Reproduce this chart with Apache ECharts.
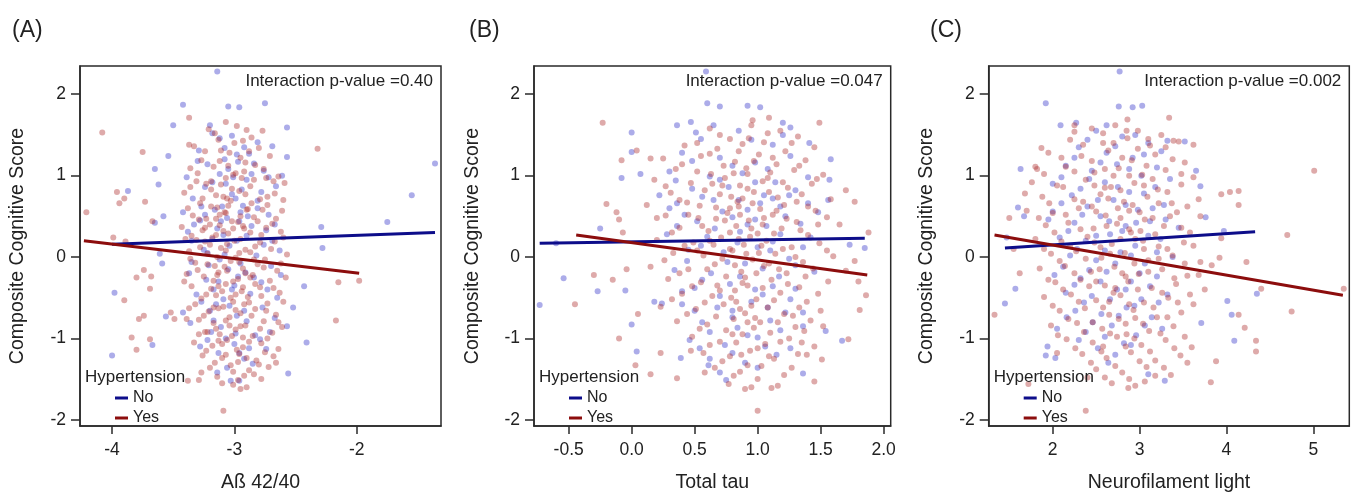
<!DOCTYPE html>
<html><head><meta charset="utf-8">
<script src="https://cdn.jsdelivr.net/npm/echarts@6/dist/echarts.min.js"></script>
<style>html,body{margin:0;padding:0;background:#fff}#c{width:1354px;height:498px}</style>
</head><body><div id="c"></div>
<script>
// ---------- tick labels ----------
const ticksY = [-2, -1, 0, 1, 2];
const ticksA = [-4, -3, -2];
const ticksB = [-0.5, 0, 0.5, 1, 1.5, 2];
const ticksC = [2, 3, 4, 5];

// ---------- texts ----------
const panelLabels = ['(A)', '(B)', '(C)'];
const xNames = ['Aß 42/40', 'Total tau', 'Neurofilament light'];
const yName = 'Composite Cognitive Score';
const pTexts = ['Interaction p-value =0.40', 'Interaction p-value =0.047', 'Interaction p-value =0.002'];
const legendTitle = 'Hypertension';
const groups = ['No', 'Yes'];

// ---------- regression lines ----------
const aLineNo = [[-4.00, 0.157], [-1.36, 0.30]];
const aLineYes = [[-4.23, 0.20], [-1.98, -0.20]];
const bLineNo = [[-0.73, 0.17], [1.85, 0.23]];
const bLineYes = [[-0.44, 0.27], [1.87, -0.22]];
const cLineNo = [[1.45, 0.11], [4.33, 0.31]];
const cLineYes = [[1.33, 0.27], [5.34, -0.47]];

// ---------- Panel A points ----------
const aNo = [
[-3.18,1.52],[-3.02,1.49],[-2.81,1.41],[-3.29,1.31],[-3.08,1.34],[-2.88,1.27],[-2.69,1.36],[-3.22,1.14],[-2.97,1.17],[-2.76,1.06],
[-3.39,0.98],[-3.12,1.02],[-2.90,0.95],[-2.66,0.87],[-3.24,0.86],[-3.02,0.77],[-2.81,0.69],[-3.34,0.72],[-3.16,0.58],[-2.93,0.63],
[-2.72,0.52],[-3.28,0.45],[-3.06,0.48],[-2.86,0.38],[-3.38,0.31],[-3.14,0.35],[-2.98,0.20],[-2.74,0.33],[-3.25,0.09],[-3.04,0.14],
[-2.82,0.02],[-2.63,0.08],[-3.35,-0.06],[-3.12,-0.03],[-2.91,-0.19],[-2.70,-0.11],[-3.23,-0.28],[-3.00,-0.35],[-2.78,-0.31],[-3.31,-0.46],
[-3.09,-0.52],[-2.87,-0.45],[-2.65,-0.50],[-3.20,-0.66],[-2.98,-0.72],[-2.77,-0.62],[-3.36,-0.81],[-3.11,-0.86],[-2.90,-0.79],[-2.71,-0.92],
[-3.22,-1.02],[-3.00,-1.07],[-2.79,-1.01],[-3.13,-1.18],[-2.92,-1.25],[-3.06,-1.36],[-2.85,-1.31],[-3.17,-0.40],[-2.95,0.55],[-3.07,0.90],
[-3.10,0.62],[-2.96,0.44],[-3.05,-0.15],[-3.15,-0.58],[-2.99,-0.94],[-3.08,1.20],[-2.94,0.83],[-3.18,0.22],
[-3.20,1.62],[-2.92,1.35],[-3.05,1.08],[-3.30,1.18],[-2.84,1.15],[-2.72,0.98],[-3.18,0.92],[-2.99,0.72],[-3.42,0.55],[-2.78,0.80],
[-3.27,0.62],[-2.89,0.50],[-3.11,0.44],[-2.67,0.40],[-3.33,0.40],[-2.90,0.26],[-3.08,0.03],[-2.76,0.15],[-3.21,-0.10],[-2.95,-0.08],
[-2.62,-0.22],[-3.37,-0.20],[-3.13,-0.30],[-2.84,-0.25],[-3.04,-0.60],[-2.73,-0.40],[-3.27,-0.55],[-2.92,-0.66],[-3.17,-0.78],[-2.83,-0.96],
[-3.07,-1.00],[-2.67,-0.75],[-3.28,-1.10],[-2.96,-1.18],[-3.14,-1.42],[-2.88,-1.12],[-3.01,0.98],[-3.24,0.52],[-2.81,0.60],[-3.09,0.27],
[-2.97,-0.24],[-3.19,-0.92],[-2.74,-1.13],[-3.35,0.20],[-2.86,1.02],[-3.12,1.46],[-2.98,1.26],[-3.02,-0.40],[-3.22,0.05],[-2.69,0.20],
[-3.14,2.28],[-3.42,1.87],[-3.05,1.85],[-2.96,1.84],[-2.75,1.89],[-3.50,1.62],[-2.57,1.59],[-3.54,1.24],[-3.65,1.08],[-3.62,0.89],
[-3.87,0.81],[-3.58,0.50],[-3.65,0.42],[-1.36,1.15],[-1.55,0.76],[-1.75,0.43],[-2.29,0.37],[-2.28,0.11],[-2.43,-0.36],[-2.41,-1.05],
[-2.52,-0.62],[-2.57,-0.85],[-3.98,-0.44],[-4.00,-1.21],[-3.67,-1.08],[-3.56,-0.73],[-3.42,-0.68],[-3.61,0.04],[-3.59,-0.08],[-2.96,-1.52],
[-3.03,-1.52],[-2.56,-1.43],[-2.57,1.23],[-2.61,1.00]
];
const aYes = [
[-3.21,1.57],[-3.07,1.66],[-2.98,1.61],[-2.93,1.43],[-3.33,1.36],[-3.13,1.44],[-2.86,1.47],[-2.77,1.55],[-3.27,1.19],[-3.04,1.28],
[-2.91,1.16],[-2.71,1.24],[-3.36,1.09],[-3.17,1.11],[-2.99,1.03],[-2.83,1.13],[-2.64,0.99],[-3.31,0.93],[-3.11,0.89],[-3.01,1.01],
[-2.87,0.87],[-2.74,0.97],[-2.59,0.91],[-3.41,0.79],[-3.19,0.83],[-3.09,0.74],[-2.96,0.81],[-2.79,0.71],[-2.67,0.78],[-3.28,0.66],
[-3.14,0.61],[-3.03,0.69],[-2.89,0.59],[-2.73,0.64],[-2.61,0.57],[-3.34,0.51],[-3.23,0.47],[-3.08,0.55],[-2.97,0.43],[-2.84,0.49],
[-2.69,0.41],[-3.43,0.37],[-3.26,0.33],[-3.12,0.39],[-3.05,0.29],[-2.92,0.35],[-2.78,0.27],[-2.62,0.31],[-3.31,0.21],[-3.18,0.24],
[-3.06,0.16],[-2.95,0.22],[-2.83,0.13],[-2.67,0.19],[-3.37,0.07],[-3.22,0.04],[-3.11,0.11],[-2.99,-0.01],[-2.87,0.06],[-2.75,-0.03],
[-2.57,0.03],[-3.32,-0.07],[-3.16,-0.11],[-3.03,-0.05],[-2.93,-0.14],[-2.81,-0.09],[-2.65,-0.17],[-3.39,-0.21],[-3.25,-0.24],[-3.13,-0.19],
[-2.97,-0.27],[-2.85,-0.22],[-2.71,-0.29],[-2.58,-0.25],[-3.35,-0.36],[-3.19,-0.39],[-3.07,-0.33],[-2.94,-0.42],[-2.79,-0.37],[-2.63,-0.44],
[-3.27,-0.51],[-3.15,-0.47],[-3.01,-0.55],[-2.89,-0.49],[-2.73,-0.57],[-3.37,-0.63],[-3.21,-0.67],[-3.09,-0.61],[-2.95,-0.69],[-2.83,-0.64],
[-2.66,-0.71],[-3.29,-0.77],[-3.17,-0.81],[-3.04,-0.74],[-2.91,-0.84],[-2.76,-0.79],[-2.61,-0.86],[-3.24,-0.92],[-3.12,-0.95],[-2.99,-0.89],
[-2.85,-0.97],[-2.69,-0.93],[-3.33,-1.05],[-3.18,-1.09],[-3.06,-1.02],[-2.93,-1.11],[-2.78,-1.06],[-2.64,-1.13],[-3.26,-1.21],[-3.10,-1.24],
[-2.96,-1.19],[-2.82,-1.27],[-2.68,-1.22],[-3.20,-1.36],[-3.03,-1.33],[-2.88,-1.39],[-2.72,-1.35],[-3.14,-1.47],[-2.97,-1.51],[-2.84,-1.44],
[-3.01,-1.57],
[-3.19,0.93],[-3.06,0.72],[-2.94,0.97],[-3.15,0.47],[-3.01,0.35],[-2.90,0.58],[-3.20,0.15],[-3.08,-0.12],[-2.96,0.05],[-3.13,-0.36],
[-2.99,-0.46],[-3.17,-0.62],[-3.04,-0.84],[-2.92,-0.58],[-3.10,-1.07],[-2.97,-1.29],[-3.22,-0.92],[-3.05,1.12],[-3.11,1.31],[-2.88,1.30],
[-3.24,0.36],[-2.87,-0.25],[-3.07,0.54],[-2.93,-0.99],[-3.14,-0.22],
[-3.16,1.52],[-2.90,1.56],[-3.00,1.40],[-3.24,1.30],[-2.80,1.34],[-2.95,1.22],[-3.12,1.18],[-3.30,1.03],[-2.76,1.08],[-2.92,1.05],
[-3.07,0.97],[-3.23,0.90],[-2.68,0.93],[-2.84,0.95],[-3.36,0.86],[-3.02,0.84],[-2.91,0.77],[-3.15,0.76],[-2.73,0.74],[-3.26,0.72],
[-2.60,0.70],[-3.05,0.63],[-2.86,0.66],[-3.19,0.62],[-3.38,0.60],[-2.77,0.58],[-2.95,0.50],[-3.12,0.52],[-3.29,0.46],[-2.66,0.47],
[-3.02,0.44],[-2.81,0.44],[-3.20,0.40],[-2.93,0.38],[-3.09,0.32],[-3.35,0.26],[-2.74,0.36],[-2.87,0.30],[-3.15,0.27],[-2.60,0.24],
[-3.00,0.20],[-3.24,0.19],[-2.79,0.18],[-3.40,0.22],[-2.91,0.09],[-3.07,0.08],[-3.28,0.12],[-2.70,0.10],[-3.14,0.00],[-2.96,-0.06],
[-2.84,-0.03],[-3.22,-0.09],[-3.36,-0.02],[-2.62,-0.08],[-3.06,-0.17],[-2.91,-0.20],[-2.76,-0.13],[-3.30,-0.16],[-3.17,-0.29],[-3.01,-0.30],
[-2.83,-0.33],[-2.68,-0.38],[-3.41,-0.30],[-3.10,-0.42],[-2.93,-0.37],[-3.23,-0.46],[-2.78,-0.48],[-3.03,-0.50],[-2.60,-0.55],[-3.32,-0.58],
[-2.88,-0.56],[-3.13,-0.63],[-2.99,-0.65],[-2.74,-0.66],[-3.25,-0.72],[-3.07,-0.78],[-2.86,-0.72],[-2.64,-0.80],[-3.39,-0.76],[-2.95,-0.85],
[-3.15,-0.88],[-2.79,-0.88],[-3.29,-0.95],[-3.02,-0.97],[-2.73,-1.00],[-2.88,-1.04],[-3.13,-1.03],[-3.23,-1.15],[-2.98,-1.14],[-2.75,-1.17],
[-3.07,-1.20],[-2.90,-1.24],[-3.16,-1.30],[-2.80,-1.32],[-3.01,-1.41],[-2.92,-1.46],[-3.10,-1.55],[-2.78,-1.50],[-3.27,-1.42],[-2.66,-1.30],
[-4.21,0.55],[-4.08,1.53],[-3.96,0.80],[-3.90,0.72],[-3.94,0.66],[-3.75,1.29],[-3.73,0.68],[-3.67,0.44],[-3.99,0.24],[-3.89,0.19],
[-3.74,-0.16],[-3.80,-0.25],[-3.90,-0.53],[-3.78,-0.76],[-3.74,-0.72],[-3.84,-0.99],[-3.80,-1.14],[-3.69,-1.01],[-3.69,-0.39],[-3.68,-0.24],
[-2.32,1.33],[-2.15,-0.31],[-1.98,-0.29],[-2.17,-0.78],[-3.37,1.71],[-3.09,-1.89],[-2.95,-1.62],[-2.90,-1.60],[-3.37,1.38],[-3.38,-1.52],
[-3.29,-1.51],[-3.49,-0.76],[-3.52,-0.68]
];

// ---------- Panel B points ----------
const bNo = [
[0.55,1.45],[0.85,1.55],[1.12,1.38],[0.40,1.28],[0.70,1.22],[0.98,1.16],[1.26,1.24],[0.30,1.05],[0.62,0.99],[0.88,1.03],
[1.14,0.92],[1.40,0.98],[0.48,0.84],[0.77,0.86],[1.05,0.76],[1.30,0.82],[0.36,0.66],[0.65,0.70],[0.92,0.58],[1.18,0.62],
[1.48,0.55],[0.52,0.44],[0.80,0.49],[1.07,0.38],[1.34,0.41],[0.28,0.28],[0.60,0.25],[0.86,0.31],[1.12,0.19],[1.42,0.24],
[0.45,0.09],[0.73,0.06],[1.00,0.12],[1.25,-0.02],[0.34,-0.16],[0.63,-0.20],[0.90,-0.08],[1.17,-0.24],[1.45,-0.18],[0.50,-0.38],
[0.78,-0.33],[1.04,-0.46],[1.30,-0.39],[0.40,-0.58],[0.68,-0.62],[0.95,-0.55],[1.22,-0.68],[0.56,-0.80],[0.84,-0.87],[1.10,-0.78],
[1.36,-0.85],[0.46,-1.02],[0.74,-1.08],[1.00,-0.99],[1.26,-1.12],[0.62,-1.25],[0.90,-1.30],[1.15,-1.20],[0.80,-0.66],[1.02,0.66],
[0.65,1.62],[0.95,1.44],[1.20,1.50],[0.48,1.18],[0.80,1.12],[1.08,1.08],[0.35,0.94],[0.70,0.95],[0.98,0.92],[1.25,0.76],
[0.56,0.74],[0.85,0.70],[1.12,0.72],[1.40,0.66],[0.42,0.52],[0.72,0.56],[0.98,0.46],[1.22,0.50],[0.36,0.38],[0.66,0.35],
[0.92,0.40],[1.18,0.28],[0.55,0.14],[0.84,0.18],[1.10,0.08],[1.36,0.12],[0.44,-0.05],[0.76,-0.06],[1.04,-0.14],[1.30,-0.10],
[0.56,-0.28],[0.86,-0.24],[1.12,-0.36],[0.40,-0.42],[0.70,-0.48],[0.98,-0.40],[1.26,-0.52],[0.50,-0.66],[0.80,-0.74],[1.08,-0.62],
[1.36,-0.68],[0.62,-0.92],[0.92,-0.96],[1.18,-0.90],[0.54,-1.12],[0.80,-1.18],[1.06,-1.10],[0.70,-1.42],[1.00,-1.36],[0.30,0.60],
[0.59,2.28],[0.60,1.89],[0.70,1.85],[0.92,1.86],[1.02,1.84],[0.47,1.66],[0.36,1.62],[0.51,1.53],[0.00,1.53],[1.20,1.65],
[1.26,1.59],[1.41,1.40],[1.58,1.20],[1.57,0.95],[1.56,0.70],[1.85,0.11],[1.73,0.15],[-0.08,0.97],[0.00,1.29],[0.07,1.02],
[-0.25,0.35],[-0.60,0.17],[-0.54,-0.26],[-0.27,-0.42],[-0.73,-0.59],[-0.05,-0.41],[0.00,-0.83],[0.04,-1.16],[0.39,-1.24],[0.61,-1.33],
[0.75,-1.51],[1.36,-1.43],[1.54,-0.91],[1.67,-1.03],[0.22,0.76],[0.18,-0.55],[0.24,-0.57]
];
const bYes = [
[0.62,1.58],[0.95,1.62],[1.18,1.55],[0.78,1.45],[1.05,1.41],[1.32,1.48],[0.42,1.37],[0.68,1.33],[0.88,1.39],[1.22,1.30],
[1.45,1.35],[0.25,1.21],[0.55,1.24],[0.82,1.17],[1.01,1.26],[1.15,1.14],[1.38,1.19],[0.35,1.08],[0.63,1.02],[0.91,1.09],
[1.10,1.04],[1.29,1.07],[1.52,1.01],[0.18,0.95],[0.47,0.91],[0.74,0.97],[0.86,0.88],[1.04,0.93],[1.24,0.85],[1.43,0.90],
[0.31,0.79],[0.58,0.82],[0.79,0.74],[0.97,0.80],[1.16,0.73],[1.35,0.77],[1.58,0.71],[0.12,0.64],[0.44,0.67],[0.67,0.61],
[0.84,0.68],[1.02,0.59],[1.21,0.64],[1.46,0.57],[0.27,0.51],[0.53,0.48],[0.76,0.54],[0.93,0.45],[1.12,0.52],[1.31,0.43],
[1.55,0.49],[0.38,0.36],[0.61,0.32],[0.83,0.38],[1.00,0.29],[1.19,0.35],[1.40,0.27],[0.20,0.21],[0.49,0.18],[0.71,0.24],
[0.89,0.15],[1.07,0.20],[1.27,0.12],[1.49,0.17],[0.33,0.05],[0.57,0.02],[0.80,0.08],[0.96,-0.03],[1.14,0.04],[1.36,-0.06],
[1.60,0.01],[0.15,-0.12],[0.45,-0.15],[0.66,-0.09],[0.87,-0.18],[1.05,-0.11],[1.23,-0.20],[1.44,-0.14],[0.29,-0.27],[0.55,-0.31],
[0.75,-0.24],[0.92,-0.35],[1.11,-0.28],[1.33,-0.37],[1.56,-0.30],[0.40,-0.45],[0.64,-0.48],[0.82,-0.41],[0.99,-0.52],[1.18,-0.44],
[1.39,-0.55],[0.23,-0.61],[0.51,-0.64],[0.73,-0.58],[0.90,-0.69],[1.08,-0.62],[1.28,-0.72],[1.50,-0.66],[0.36,-0.79],[0.60,-0.83],
[0.81,-0.76],[0.97,-0.87],[1.16,-0.80],[1.37,-0.91],[0.48,-0.98],[0.70,-1.04],[0.88,-0.95],[1.06,-1.07],[1.25,-1.00],[1.45,-1.10],
[0.57,-1.18],[0.78,-1.22],[0.94,-1.15],[1.13,-1.25],[1.32,-1.19],[0.66,-1.36],[0.86,-1.41],[1.03,-1.34],[1.21,-1.45],[0.77,-1.56],
[0.95,-1.60],
[0.72,0.88],[0.85,0.62],[0.95,0.35],[0.78,0.10],[0.90,-0.25],[0.83,-0.55],[0.98,-0.75],[0.68,-0.35],[1.05,0.48],[0.74,0.45],
[0.92,1.02],[0.80,-0.95],[0.87,-1.20],[1.01,0.05],[0.65,0.15],
[0.70,1.50],[1.08,1.52],[0.52,1.40],[0.93,1.46],[1.27,1.40],[0.62,1.27],[0.85,1.30],[1.12,1.22],[0.40,1.14],[0.73,1.12],
[0.97,1.18],[1.33,1.12],[0.52,1.05],[0.81,1.03],[1.08,0.97],[1.47,0.96],[0.27,0.87],[0.64,0.90],[0.92,0.84],[1.20,0.92],
[0.38,0.70],[0.70,0.77],[0.88,0.72],[1.09,0.80],[1.31,0.68],[0.54,0.63],[0.78,0.60],[0.96,0.66],[1.15,0.57],[1.40,0.62],
[0.20,0.48],[0.45,0.52],[0.67,0.47],[0.86,0.52],[1.04,0.40],[1.23,0.47],[1.48,0.40],[0.32,0.30],[0.56,0.38],[0.78,0.30],
[0.94,0.25],[1.13,0.29],[1.34,0.33],[0.42,0.14],[0.62,0.20],[0.85,0.22],[1.03,0.14],[1.20,0.10],[1.55,0.08],[0.26,-0.04],
[0.52,0.08],[0.72,-0.02],[0.91,0.04],[1.09,-0.08],[1.30,0.00],[0.38,-0.20],[0.60,-0.15],[0.82,-0.10],[0.99,-0.20],[1.17,-0.15],
[1.38,-0.24],[0.48,-0.36],[0.70,-0.41],[0.88,-0.32],[1.04,-0.38],[1.24,-0.33],[1.48,-0.45],[0.32,-0.52],[0.58,-0.56],[0.79,-0.50],
[0.95,-0.60],[1.13,-0.53],[1.33,-0.62],[0.44,-0.70],[0.67,-0.73],[0.86,-0.64],[1.02,-0.80],[1.21,-0.70],[1.42,-0.78],[0.54,-0.88],
[0.75,-0.90],[0.92,-0.80],[1.10,-0.93],[1.30,-0.86],[0.62,-1.08],[0.83,-1.05],[1.00,-1.12],[1.18,-1.04],[1.39,-1.20],[0.72,-1.28],
[0.92,-1.33],[1.09,-1.22],[1.27,-1.36],[0.81,-1.46],[1.00,-1.50],[1.16,-1.58],[0.58,-1.42],[1.35,-1.05],[0.47,-1.15],[1.52,-0.85],
[-0.23,1.65],[-0.20,0.65],[-0.45,-0.58],[-0.30,-0.22],[-0.08,1.19],[-0.10,0.46],[-0.12,0.55],[-0.04,-0.15],[-0.10,-1.00],[0.03,-1.33],
[0.15,-1.44],[0.23,-1.18],[0.36,-1.49],[1.00,-1.89],[0.90,-1.62],[1.49,1.65],[1.09,1.71],[0.96,1.68],[1.77,0.68],[1.88,0.30],
[1.86,-0.47],[1.81,-0.65],[1.72,-1.01],[1.45,-1.53],[1.51,-1.26],[1.11,-1.61],[0.04,1.31],[0.15,1.21],[1.70,-0.17],[1.77,-0.05],
[1.80,-0.30],[-0.07,0.30],[0.05,-0.70],[-0.15,-0.28],[1.65,0.40],[1.70,0.82]
];

// ---------- Panel C points ----------
const cNo = [
[2.50,1.55],[2.80,1.48],[3.10,1.40],[2.30,1.35],[2.62,1.28],[2.92,1.22],[3.25,1.30],[2.15,1.12],[2.45,1.06],[2.74,1.14],
[3.02,1.00],[3.35,0.96],[2.00,0.90],[2.32,0.84],[2.60,0.92],[2.88,0.80],[3.18,0.86],[2.10,0.66],[2.40,0.62],[2.70,0.70],
[2.98,0.58],[3.28,0.64],[1.95,0.46],[2.25,0.42],[2.55,0.50],[2.84,0.38],[3.12,0.44],[3.45,0.36],[2.08,0.24],[2.38,0.20],
[2.66,0.28],[2.95,0.14],[3.24,0.22],[2.20,0.02],[2.50,-0.04],[2.78,0.06],[3.06,-0.08],[3.38,0.00],[2.02,-0.22],[2.32,-0.26],
[2.62,-0.18],[2.90,-0.30],[3.20,-0.24],[2.15,-0.44],[2.45,-0.48],[2.74,-0.40],[3.02,-0.52],[3.32,-0.46],[2.26,-0.66],[2.56,-0.70],
[2.85,-0.62],[3.14,-0.74],[2.05,-0.88],[2.38,-0.92],[2.68,-0.84],[2.96,-0.96],[3.26,-0.88],[2.52,-1.12],[2.82,-1.06],[2.64,-1.30],
[2.62,1.62],[2.95,1.50],[2.40,1.44],[2.72,1.36],[3.05,1.26],[2.25,1.22],[2.55,1.16],[2.88,1.08],[3.20,1.10],[2.10,0.98],
[2.42,0.96],[2.75,0.86],[3.05,0.78],[2.22,0.76],[2.52,0.70],[2.84,0.64],[3.15,0.60],[2.00,0.56],[2.34,0.52],[2.65,0.44],
[2.96,0.42],[3.30,0.46],[2.18,0.32],[2.50,0.26],[2.80,0.32],[3.10,0.26],[2.28,0.10],[2.60,0.08],[2.90,0.02],[3.20,0.06],
[2.12,-0.12],[2.42,-0.16],[2.72,-0.08],[3.00,-0.20],[2.25,-0.34],[2.55,-0.30],[2.84,-0.40],[3.12,-0.36],[2.36,-0.56],[2.66,-0.52],
[2.94,-0.60],[3.22,-0.56],[2.16,-0.74],[2.46,-0.80],[2.76,-0.72],[3.06,-0.84],[2.30,-1.02],[2.60,-0.98],[2.90,-1.08],[2.72,-1.20],
[2.77,2.28],[1.92,1.89],[2.76,1.85],[2.92,1.84],[3.03,1.86],[2.09,1.62],[2.27,1.65],[1.63,1.08],[1.60,0.61],[1.67,0.50],
[1.47,0.24],[1.45,-0.57],[1.57,-0.39],[1.92,-1.21],[1.94,-1.10],[2.03,-1.24],[3.65,1.06],[3.70,0.87],[3.52,1.42],[3.32,1.43],
[3.97,0.32],[4.01,-0.54],[4.09,-1.03],[4.06,-0.71],[4.35,-0.45],[3.29,-1.52],[3.10,-1.44],[3.76,0.49],[3.71,-0.81]
];
const cYes = [
[2.45,1.58],[2.72,1.62],[2.98,1.55],[3.25,1.50],[2.20,1.44],[2.58,1.40],[2.86,1.46],[3.12,1.37],[3.45,1.42],[1.95,1.28],
[2.33,1.24],[2.64,1.31],[2.91,1.19],[3.18,1.26],[3.52,1.16],[1.82,1.08],[2.15,1.11],[2.48,1.04],[2.76,1.09],[3.03,1.01],
[3.30,1.07],[3.62,0.98],[1.76,0.92],[2.05,0.88],[2.38,0.95],[2.67,0.86],[2.94,0.91],[3.21,0.83],[3.48,0.89],[1.88,0.74],
[2.25,0.71],[2.55,0.77],[2.82,0.68],[3.09,0.74],[3.37,0.66],[3.68,0.71],[1.70,0.57],[2.00,0.54],[2.30,0.60],[2.61,0.51],
[2.88,0.57],[3.15,0.48],[3.43,0.55],[1.92,0.39],[2.18,0.42],[2.47,0.35],[2.74,0.41],[3.01,0.32],[3.28,0.38],[3.58,0.30],
[1.80,0.22],[2.10,0.19],[2.40,0.25],[2.68,0.16],[2.95,0.22],[3.22,0.13],[3.51,0.18],[1.98,0.04],[2.27,0.07],[2.56,-0.01],
[2.83,0.05],[3.10,-0.04],[3.38,0.02],[3.70,-0.06],[1.85,-0.14],[2.14,-0.11],[2.44,-0.18],[2.71,-0.12],[2.99,-0.21],[3.26,-0.15],
[3.55,-0.23],[2.03,-0.31],[2.32,-0.28],[2.60,-0.35],[2.87,-0.30],[3.14,-0.38],[3.42,-0.33],[3.75,-0.40],[1.90,-0.49],[2.21,-0.46],
[2.50,-0.53],[2.78,-0.47],[3.05,-0.56],[3.33,-0.50],[3.62,-0.58],[2.08,-0.66],[2.37,-0.63],[2.65,-0.71],[2.93,-0.65],[3.20,-0.74],
[3.48,-0.68],[1.98,-0.84],[2.28,-0.81],[2.57,-0.88],[2.84,-0.82],[3.11,-0.91],[3.39,-0.85],[2.16,-1.01],[2.46,-1.05],[2.74,-0.98],
[3.02,-1.08],[3.30,-1.02],[3.60,-1.11],[2.34,-1.19],[2.62,-1.24],[2.90,-1.17],[3.18,-1.27],[3.47,-1.21],[2.50,-1.38],[2.80,-1.42],
[3.08,-1.35],[3.36,-1.45],[2.68,-1.55],[2.95,-1.58],
[2.60,0.85],[2.75,0.60],[2.90,0.30],[2.55,0.12],[2.80,-0.20],[2.65,-0.55],[2.95,-0.75],[2.50,-0.30],[3.00,0.55],[2.70,1.00],
[2.85,-0.95],[2.58,-1.10],[3.05,0.10],[2.45,0.62],[2.72,-0.38],
[2.58,1.52],[2.85,1.55],[3.10,1.45],[2.35,1.38],[2.70,1.40],[2.98,1.33],[3.30,1.35],[2.10,1.22],[2.45,1.18],[2.80,1.22],
[3.08,1.12],[3.38,1.20],[1.90,1.02],[2.25,1.05],[2.60,1.08],[2.88,1.00],[3.15,0.96],[3.48,1.02],[2.12,0.86],[2.48,0.88],
[2.78,0.82],[3.05,0.88],[3.32,0.80],[1.96,0.66],[2.35,0.68],[2.64,0.72],[2.92,0.64],[3.22,0.66],[3.55,0.62],[1.84,0.48],
[2.15,0.52],[2.50,0.56],[2.78,0.48],[3.06,0.46],[3.35,0.50],[2.02,0.30],[2.32,0.34],[2.62,0.38],[2.88,0.34],[3.18,0.28],
[3.48,0.36],[1.90,0.10],[2.20,0.14],[2.48,0.18],[2.78,0.22],[3.04,0.20],[3.32,0.10],[3.62,0.14],[2.08,-0.05],[2.38,-0.02],
[2.66,0.04],[2.94,-0.08],[3.22,-0.02],[3.52,-0.08],[1.95,-0.28],[2.25,-0.20],[2.54,-0.15],[2.84,-0.24],[3.10,-0.18],[3.40,-0.26],
[3.68,-0.22],[2.12,-0.40],[2.42,-0.36],[2.70,-0.44],[2.98,-0.40],[3.26,-0.44],[3.58,-0.46],[2.00,-0.60],[2.30,-0.55],[2.58,-0.62],
[2.88,-0.58],[3.16,-0.62],[3.44,-0.56],[2.18,-0.76],[2.46,-0.80],[2.76,-0.76],[3.04,-0.82],[3.32,-0.74],[2.06,-0.96],[2.36,-0.92],
[2.66,-0.94],[2.94,-1.00],[3.24,-0.94],[3.52,-0.98],[2.26,-1.12],[2.56,-1.16],[2.84,-1.10],[3.12,-1.16],[3.40,-1.12],[2.44,-1.30],
[2.72,-1.34],[3.00,-1.28],[3.28,-1.36],[2.60,-1.48],[2.88,-1.50],[3.18,-1.46],[2.40,-1.48],[3.55,-1.30],[2.05,-1.18],[3.70,0.50],
[1.33,-0.71],[1.50,0.48],[1.87,1.34],[1.80,1.11],[1.72,-1.56],[2.38,-1.89],[2.87,-1.61],[3.06,-1.53],[3.82,-1.54],[5.01,1.06],
[4.70,0.27],[4.75,-0.67],[5.35,-0.39],[4.40,-0.39],[4.23,-0.06],[3.94,0.77],[4.04,0.80],[4.14,0.81],[4.14,0.64],[4.34,-1.03],
[4.34,-1.16],[4.21,-0.87],[4.14,-0.71],[3.88,-1.28],[3.34,1.71],[3.39,1.43],[2.86,1.69],[2.25,1.62],[2.25,1.54],[3.62,1.38],
[3.94,0.23],[3.92,-0.01],[3.83,-0.10],[1.55,0.10],[1.62,-0.20],[1.68,0.78]
];

// ---------- layout / style (not data) ----------
const FONT = "'Liberation Sans', Arial, Helvetica, sans-serif";
const INK = '#222';
const COL_NO_LINE = '#0d0d8a', COL_YES_LINE = '#8c0d0d';
const COL_NO_PT = 'rgba(65,65,205,0.55)', COL_YES_PT = 'rgba(172,42,42,0.5)';
const boxTop = 66, boxH = 366.3;
const yMin = -2.076, yMax = 2.347;
const layout = [
  {left: 80, width: 361, xmin: -4.262, xmax: -1.311, ticks: ticksA, fmt: v => String(v), labX: 12, yTitleGap: 52},
  {left: 534, width: 356.7, xmin: -0.775, xmax: 2.056, ticks: ticksB, fmt: v => v.toFixed(1), labX: 469, yTitleGap: 51},
  {left: 988.7, width: 360.6, xmin: 1.263, xmax: 5.414, ticks: ticksC, fmt: v => String(v), labX: 930, yTitleGap: 52}
];
const pts = [[aNo, aYes], [bNo, bYes], [cNo, cYes]];
const lines = [[aLineNo, aLineYes], [bLineNo, bLineYes], [cLineNo, cLineYes]];

const chart = echarts.init(document.getElementById('c'), null, {renderer: 'canvas'});
const grid = [], xAxis = [], yAxis = [], series = [], title = [], legend = [];
layout.forEach((L, i) => {
  grid.push({left: L.left, top: boxTop, width: L.width, height: boxH, show: true,
    borderColor: '#2a2a2a', borderWidth: 1.5, backgroundColor: 'transparent'});
  xAxis.push({type: 'value', gridIndex: i, min: L.xmin, max: L.xmax,
    name: xNames[i], nameLocation: 'middle', nameGap: 47,
    nameTextStyle: {fontFamily: FONT, fontSize: 19.5, color: INK},
    axisLine: {show: true, onZero: false, lineStyle: {color: '#2a2a2a', width: 1.5}},
    axisTick: {show: true, inside: false, length: 8, customValues: L.ticks, lineStyle: {color: '#2a2a2a', width: 1.5}},
    axisLabel: {show: true, customValues: L.ticks, formatter: L.fmt, margin: 15,
      fontFamily: FONT, fontSize: 17.5, color: INK},
    splitLine: {show: false}});
  yAxis.push({type: 'value', gridIndex: i, min: yMin, max: yMax,
    name: yName, nameLocation: 'middle', nameGap: L.yTitleGap,
    nameTextStyle: {fontFamily: FONT, fontSize: 19.5, color: INK},
    axisLine: {show: true, onZero: false, lineStyle: {color: '#2a2a2a', width: 1.5}},
    axisTick: {show: true, inside: false, length: 9, customValues: ticksY, lineStyle: {color: '#2a2a2a', width: 1.5}},
    axisLabel: {show: true, customValues: ticksY, margin: 14,
      fontFamily: FONT, fontSize: 17.5, color: INK},
    splitLine: {show: false}});
  series.push({type: 'scatter', name: 'No points', xAxisIndex: i, yAxisIndex: i, data: pts[i][0],
    symbol: 'circle', symbolSize: 6, itemStyle: {color: COL_NO_PT}, silent: true, z: 2});
  series.push({type: 'scatter', name: 'Yes points', xAxisIndex: i, yAxisIndex: i, data: pts[i][1],
    symbol: 'circle', symbolSize: 6, itemStyle: {color: COL_YES_PT}, silent: true, z: 2});
  series.push({type: 'line', name: groups[0], xAxisIndex: i, yAxisIndex: i, data: lines[i][0],
    symbol: 'none', color: COL_NO_LINE, lineStyle: {color: COL_NO_LINE, width: 3}, silent: true, z: 5});
  series.push({type: 'line', name: groups[1], xAxisIndex: i, yAxisIndex: i, data: lines[i][1],
    symbol: 'none', color: COL_YES_LINE, lineStyle: {color: COL_YES_LINE, width: 3}, silent: true, z: 5});
  title.push({text: panelLabels[i], left: L.labX, top: 17, padding: 0,
    textStyle: {fontFamily: FONT, fontSize: 23, fontWeight: 'normal', color: INK, lineHeight: 28}});
  title.push({text: pTexts[i], right: 1354 - (L.left + L.width - 8), top: 71, padding: 0,
    textStyle: {fontFamily: FONT, fontSize: 17, fontWeight: 'normal', color: INK, lineHeight: 20}});
  title.push({text: legendTitle, left: L.left + 5, top: 367.5, padding: 0,
    textStyle: {fontFamily: FONT, fontSize: 17, fontWeight: 'normal', color: INK, lineHeight: 20}});
  legend.push({data: groups, left: L.left + 35, top: 388, orient: 'vertical', padding: 0, itemGap: 0,
    itemWidth: 13, itemHeight: 3, icon: 'rect', selectedMode: false,
    textStyle: {fontFamily: FONT, fontSize: 16, color: INK, lineHeight: 20}});
});
chart.setOption({animation: false, backgroundColor: '#fff', grid, xAxis, yAxis, series, title, legend});
</script></body></html>
